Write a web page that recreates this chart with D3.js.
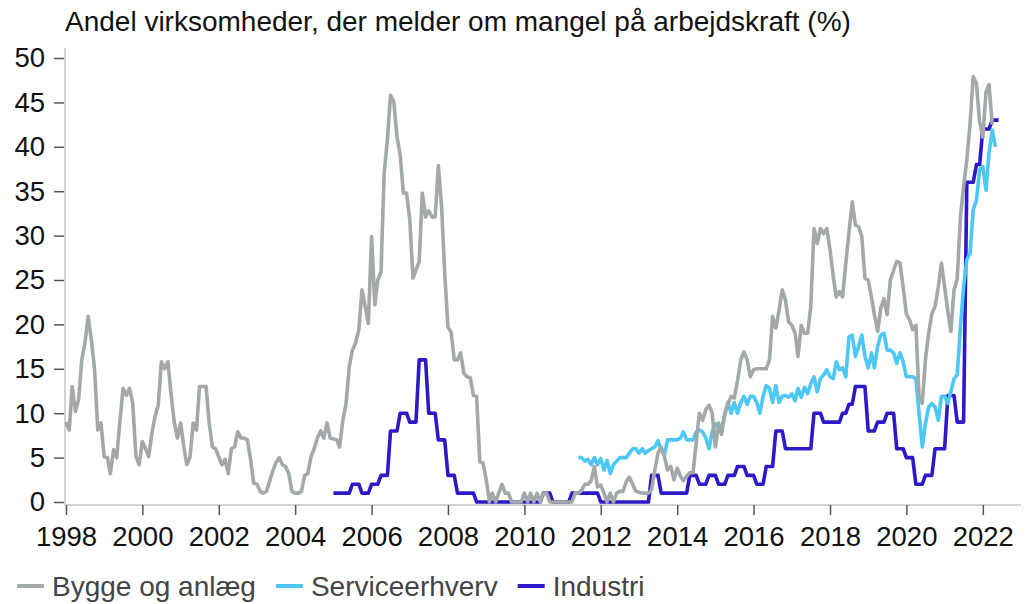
<!DOCTYPE html>
<html>
<head>
<meta charset="utf-8">
<script src="https://cdn.jsdelivr.net/npm/d3@7"></script>
<style>
  html, body { margin: 0; padding: 0; background: #fff; }
  svg { display: block; font-family: "Liberation Sans", Arial, sans-serif; }
</style>
</head>
<body>
<div id="chart"></div>
<script>
// Månedlige tal (andel i %), første måned angivet pr. serie
const title = "Andel virksomheder, der melder om mangel på arbejdskraft (%)";
const seriesNames = ["Bygge og anlæg", "Serviceerhverv", "Industri"];
const seriesColors = ["#a3a9ab", "#4dc8f6", "#2c19c8"];
const yTicks = [0, 5, 10, 15, 20, 25, 30, 35, 40, 45, 50];
const xTickYears = [1998, 2000, 2002, 2004, 2006, 2008, 2010, 2012, 2014, 2016, 2018, 2020, 2022];

// Bygge og anlæg: fra januar 1998
const byggeStart = [1998, 0];
const bygge = [
  9, 8.1, 13, 10.2, 11.5, 16, 17.9, 20.9, 18.2, 15, 8.1, 8.9,
  5.1, 5, 3.2, 5.9, 5, 9.2, 12.8, 12, 12.8, 11.1, 5.1, 4.2,
  6.8, 6, 5.1, 7.7, 9.6, 10.9, 15.8, 15, 15.8, 12.2, 9, 7.2,
  8.9, 6.2, 4.2, 5.1, 8.9, 8.1, 13, 13, 13, 8.9, 6.2, 6,
  5.1, 4.2, 4.8, 3.2, 6, 6.2, 7.9, 7.2, 7.2, 7, 4.8, 2.1,
  2, 1.2, 1, 1.2, 2.3, 3.5, 4.4, 5, 4.2, 4, 3.2, 1.2,
  1, 1, 1.2, 3, 3.2, 5.1, 6, 7.2, 8, 7.2, 8.9, 7.2,
  7.1, 7, 6.2, 9.2, 11, 15.2, 17.1, 17.9, 19.4, 23.9, 22, 20.1,
  29.9, 22.2, 25, 25.9, 37, 40.8, 45.8, 45.1, 41.1, 39.1, 34.8, 34.8,
  31.8, 25.2, 26.1, 27.1, 34.8, 32.1, 32.8, 32.1, 32.1, 37.9, 33.3, 25.8,
  19.7, 19.1, 16, 16, 16.8, 14.5, 14.1, 14, 12, 11.9, 4.5, 4.4,
  2.5, 0, 1, 0, 1, 2, 1, 1, 0, 0, 0, 0,
  1, 0, 1, 0, 1, 0, 1, 1, 0, 0, 0, 0,
  0, 0, 0, 0, 1, 1, 1.3, 2, 2, 2.4, 4, 1.7,
  1.9, 1, 0, 1, 0, 1, 1.2, 1.2, 2.3, 2.8, 2, 1.2,
  1.1, 1, 1, 1, 1.4, 3.6, 5.5, 6.2, 5.1, 3.6, 4, 2.5,
  3.8, 2.9, 2.4, 2.9, 3.3, 3.3, 6.6, 10, 9.2, 10.4, 10.9, 10,
  6.2, 8.9, 7.6, 10, 11.1, 11.9, 11.7, 13.7, 16, 16.9, 16, 14.1,
  14.9, 15, 15, 15, 15, 16, 20.9, 19.6, 21.6, 23.9, 22.7, 20.3,
  19.9, 19, 16.4, 19.9, 19, 19, 22, 30.8, 29.1, 30.8, 30.2, 30.8,
  28.4, 25.4, 23.1, 23.7, 23.1, 26.9, 30.3, 33.8, 31.2, 31, 29.9, 25.2,
  25, 23.1, 21.1, 19.2, 21.8, 22.9, 21.1, 25, 26.1, 27.1, 26.9, 24.2,
  21.2, 20.5, 19.4, 19.9, 11.9, 11.1, 16, 19, 21.2, 22, 24.2, 26.9,
  24.2, 21.4, 19.2, 23.9, 25.1, 32.1, 35.5, 38.5, 42.6, 47.9, 47.1, 42.8,
  41.1, 46.2, 47, 42.5
];

// Serviceerhverv: fra juni 2011
const serviceStart = [2011, 5];
const service = [
  5, 5, 4.6, 4.8, 4.2, 5, 4.2, 4.9, 3.6, 4.7, 3.2, 4.2, 4.6,
  5, 5, 5, 5.5, 6, 6, 5.5, 6, 5.5, 5.8, 6, 6.2, 6.9,
  5.8, 5.3, 7, 7, 7, 7, 7.2, 7.9, 7, 7, 7, 7.9, 8.1,
  7.9, 7.2, 6, 7.9, 8.8, 8.5, 8.1, 9.8, 11.2, 10, 11.2, 10,
  11.2, 11.9, 11, 11.9, 11.9, 11.2, 10, 11.9, 13.1, 12.8, 11.2, 13.1,
  11.2, 11.9, 12, 11.8,
  12.2, 11.4, 12.8, 11.8, 12.9, 12.2, 13.3, 14.1, 12.4, 13.9, 14.3, 14.9,
  14.1, 13.9, 15.8, 14.9, 15.1, 14.1, 18.6, 18.8, 16.4, 17.5, 18.8, 16.4,
  15.1, 16.8, 15.1, 17.5, 18.8, 19, 17.1, 17.1, 16.8, 15.6, 16.8, 15.8,
  14.1, 14.1, 14.1, 13.9, 10, 6.2,
  8.8, 10.7, 11.1, 10.7, 9.2, 11.9, 11.9, 11.1, 12.4, 13.9, 14.3, 19.7,
  24.2, 27.3, 28, 32.9, 34, 37.4, 37.8, 35.1, 39.3, 41.9, 40
];

// Industri: fra januar 2005 (kvartalstal vist pr. måned)
const industriStart = [2005, 0];
const industri = [
  1, 1, 1, 1, 1, 1, 2, 2, 2, 1, 1, 1,
  2, 2, 2, 3, 3, 3, 8, 8, 8, 10, 10, 10,
  9, 9, 9, 16, 16, 16, 10, 10, 10, 7, 7, 7,
  3, 3, 3, 1, 1, 1, 1, 1, 1, 0, 0, 0,
  0, 0, 0, 0, 0, 0, 0, 0, 0, 0, 0, 0,
  0, 0, 0, 0, 0, 0, 1, 1, 1, 0, 0, 0,
  0, 0, 0, 1, 1, 1, 1, 1, 1, 1, 1, 1,
  0, 0, 0, 0, 0, 0, 0, 0, 0, 0, 0, 0,
  0, 0, 0, 0, 3, 3, 3, 1, 1, 1, 1, 1,
  1, 1, 1, 1, 3, 3, 3, 2, 2, 2, 3, 3,
  3, 2, 2, 2, 3, 3, 3, 4, 4, 4, 3, 3,
  3, 2, 2, 2, 4, 4, 4, 8, 8, 8, 6, 6,
  6, 6, 6, 6, 6, 6, 6, 10, 10, 10, 9, 9,
  9, 9, 9, 9, 10, 10, 11, 11, 13, 13, 13, 13,
  8, 8, 8, 9, 9, 9, 10, 10, 10, 6, 6, 6,
  5, 5, 5, 2, 2, 2, 3, 3, 3, 6, 6, 6,
  6, 12, 12, 12, 9, 9, 9, 36, 36, 36, 38, 38,
  42, 42, 42, 43, 43, 43
];

const W = 1035, H = 604;
const FONT = "'Liberation Sans', Arial, sans-serif";
const svg = d3.select("#chart").append("svg").attr("width", W).attr("height", H);

const x = d3.scaleTime()
  .domain([new Date(1998, 0, 1), new Date(2023, 0, 1)])
  .range([66, 1021]);
const y = d3.scaleLinear().domain([0, 50]).range([502, 58]);

const toPoints = (start, vals) => vals.map((v, i) => ({ date: new Date(start[0], start[1] + i, 1), v }));

// akser
const axisY = 505;
svg.append("line")
  .attr("x1", 65).attr("x2", 1021).attr("y1", axisY).attr("y2", axisY)
  .attr("stroke", "#c4c4c4").attr("stroke-width", 1.5);
svg.append("line")
  .attr("x1", 65).attr("x2", 65).attr("y1", 48).attr("y2", axisY)
  .attr("stroke", "#c4c4c4").attr("stroke-width", 1.5);

const gx = svg.append("g").attr("transform", `translate(0,${axisY})`)
  .call(d3.axisBottom(x)
    .tickValues(xTickYears.map(yr => new Date(yr, 0, 1)))
    .tickFormat(d3.timeFormat("%Y"))
    .tickSize(10).tickPadding(11));
gx.select(".domain").remove();

const gy = svg.append("g").attr("transform", "translate(64,0)")
  .call(d3.axisLeft(y).tickValues(yTicks).tickSize(10).tickPadding(9));
gy.select(".domain").remove();

[gx, gy].forEach(g => {
  g.selectAll(".tick line").attr("stroke", "#555").attr("stroke-width", 1.5);
  g.selectAll(".tick text").attr("fill", "#111").style("font-size", "27.5px")
    .style("font-family", FONT);
});

// linjer
const line = d3.line().x(d => x(d.date)).y(d => y(d.v));
const data = [
  { name: seriesNames[2], color: seriesColors[2], pts: toPoints(industriStart, industri) },
  { name: seriesNames[1], color: seriesColors[1], pts: toPoints(serviceStart, service) },
  { name: seriesNames[0], color: seriesColors[0], pts: toPoints(byggeStart, bygge) }
];
svg.selectAll(".series").data(data).enter().append("path")
  .attr("class", "series")
  .attr("fill", "none")
  .attr("stroke", d => d.color)
  .attr("stroke-width", 3.6)
  .attr("stroke-linejoin", "round")
  .attr("d", d => line(d.pts));

// titel
svg.append("text")
  .attr("x", 65).attr("y", 31)
  .attr("fill", "#111")
  .style("font-size", "28px")
  .text(title);

// legende
const leg = svg.append("g").attr("transform", "translate(17,586)");
let lx = 0;
seriesNames.forEach((n, i) => {
  leg.append("line").attr("x1", lx).attr("x2", lx + 27).attr("y1", 0).attr("y2", 0)
    .attr("stroke", seriesColors[i]).attr("stroke-width", 4);
  const t = leg.append("text").attr("x", lx + 35).attr("y", 10)
    .attr("fill", "#444").style("font-size", "28px").text(n);
  lx += 35 + t.node().getComputedTextLength() + 20;
});
</script>
</body>
</html>
